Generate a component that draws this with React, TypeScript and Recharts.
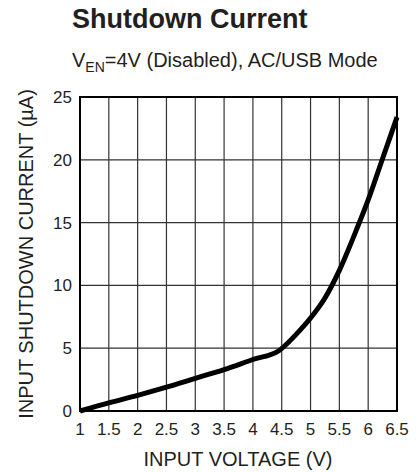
import { LineChart, Line, XAxis, YAxis, CartesianGrid, ReferenceArea } from 'recharts';

// input voltage (V) and shutdown current (uA)
const voltage = [1, 1.5, 2, 2.5, 3, 3.5, 4, 4.45, 4.75, 5, 5.25, 5.5, 5.75, 6, 6.25, 6.5];
const current = [0, 0.65, 1.25, 1.9, 2.6, 3.3, 4.1, 4.8, 6.1, 7.4, 9.0, 11.2, 13.9, 16.8, 20.1, 23.4];

const xTicks = [1, 1.5, 2, 2.5, 3, 3.5, 4, 4.5, 5, 5.5, 6, 6.5];
const yTicks = [0, 5, 10, 15, 20, 25];

const data = voltage.map((v, i) => ({ v, i: current[i] }));

const FONT = '"Liberation Sans", Arial, sans-serif';
const INK = '#231f20';

export default function App() {
  return (
    <div style={{ position: 'absolute', left: 0, top: 0, width: 420, height: 472, fontFamily: FONT }}>
      <LineChart width={420} height={472} data={data} margin={{ top: 97, right: 23, bottom: 31, left: 20 }}>
        <CartesianGrid stroke="#333" strokeWidth={1.2} />
        <XAxis
          dataKey="v"
          type="number"
          domain={[1, 6.5]}
          ticks={xTicks}
          interval={0}
          height={30}
          tickLine={false}
          axisLine={false}
          tickMargin={6}
          tick={{ fontSize: 17, fill: INK, fontFamily: FONT }}
        />
        <YAxis
          type="number"
          domain={[0, 25]}
          ticks={yTicks}
          interval={0}
          width={60}
          tickLine={false}
          axisLine={false}
          tick={{ fontSize: 17, fill: INK, fontFamily: FONT }}
        />
        <ReferenceArea x1={1} x2={6.5} y1={0} y2={25} fill="none" stroke="#000" strokeWidth={2} />
        <Line
          dataKey="i"
          type="monotone"
          stroke="#000"
          strokeWidth={5}
          dot={false}
          isAnimationActive={false}
        />
      </LineChart>
      <svg width={420} height={472} style={{ position: 'absolute', left: 0, top: 0, pointerEvents: 'none' }}>
        <text x={72} y={28} fontSize={27} fontWeight="bold" fill={INK} fontFamily={FONT}>
          Shutdown Current
        </text>
        <text x={72} y={67} fontSize={20} fill={INK} fontFamily={FONT}>
          V<tspan fontSize={14} dy={5}>EN</tspan>
          <tspan dy={-5}>=4V (Disabled), AC/USB Mode</tspan>
        </text>
        <text
          x={33}
          y={254}
          fontSize={20}
          fill={INK}
          fontFamily={FONT}
          textAnchor="middle"
          transform="rotate(-90 33 254)"
        >
          INPUT SHUTDOWN CURRENT (µA)
        </text>
        <text x={238} y={466} fontSize={20} fill={INK} fontFamily={FONT} textAnchor="middle">
          INPUT VOLTAGE (V)
        </text>
      </svg>
    </div>
  );
}
